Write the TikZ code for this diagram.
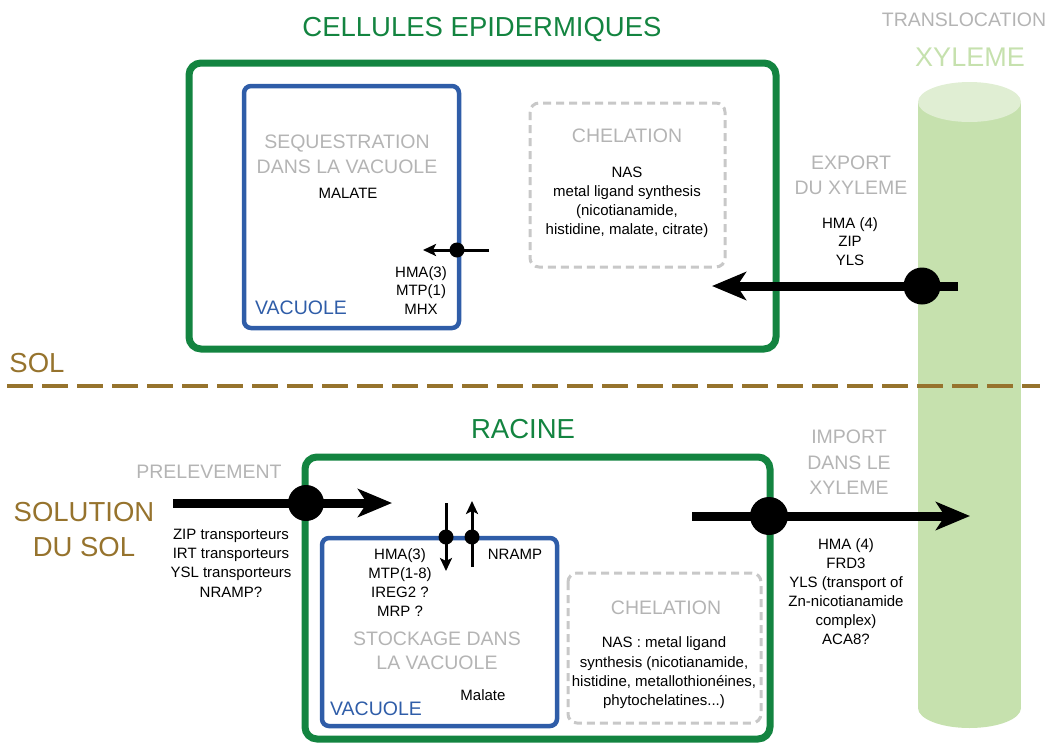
\documentclass[tikz,border=0pt]{standalone}
\usepackage{fontspec}
\setmainfont{Liberation Sans}
\usetikzlibrary{arrows.meta}
\definecolor{cellgreen}{RGB}{19,132,64}
\definecolor{vacblue}{RGB}{47,93,168}
\definecolor{solbrown}{RGB}{150,115,45}
\definecolor{labelgrey}{RGB}{180,180,180}
\definecolor{dashgrey}{RGB}{200,200,200}
\definecolor{xylgreen}{RGB}{198,225,174}
\definecolor{xyltop}{RGB}{224,238,211}

\tikzset{
    bigtitle/.style={font=\fontsize{27.5}{35}\selectfont, align=center, inner sep=0pt},
    greyhead/.style={labelgrey, font=\fontsize{19.5}{25}\selectfont, align=center, inner sep=0pt},
    smalltxt/.style={font=\fontsize{15}{19}\selectfont, align=center, inner sep=0pt},
    transdot/.style={circle, fill=black, inner sep=0pt, minimum size=#1},
    bigarrow/.style={line width=9pt, -{Stealth[length=34pt,width=28pt,inset=9pt]}},
    smallarrow/.style={line width=3pt, -{Stealth[length=13pt,width=12pt,inset=3pt]}},
}

\begin{document}
\begin{tikzpicture}[x=1pt, y=-1pt]
            \useasboundingbox (0,0) rectangle (1050,742);

            % Xyleme
            \fill[xylgreen] (918,102) rectangle (1021,708);
            \fill[xylgreen] (969.5,708) ellipse[x radius=51.5, y radius=20];
            \fill[xyltop] (969.5,102) ellipse[x radius=51.5, y radius=20];
            \node[greyhead] (transloc) at (964,20) {TRANSLOCATION};
            \node[bigtitle, xylgreen, font=\fontsize{27}{35}\selectfont] (xylemetitle) at (970,57) {XYLEME};

            % Cellules epidermiques
            \draw[line width=7pt, cellgreen, rounded corners=12pt] (189,63) rectangle (776,349);
            \node[bigtitle, cellgreen] (epititle) at (482,29) {CELLULES EPIDERMIQUES};
            \draw[line width=4.5pt, vacblue, rounded corners=7pt] (244,86) rectangle (459,328);
            \node[greyhead] (sequest) at (347,154.5) {SEQUESTRATION\\DANS LA VACUOLE};
            \node[smalltxt] (malatetop) at (348,193) {MALATE};
            \node[greyhead, vacblue] (vactop) at (301,308) {VACUOLE};
            \node[smalltxt, font=\fontsize{15}{18.5}\selectfont] (vactransp) at (421,290.5) {HMA(3)\\MTP(1)\\MHX};
            \draw[line width=3pt, dashgrey, dash pattern=on 8pt off 5pt, rounded corners=9pt] (530,103) rectangle (725,267);
            \node[greyhead] (chelattop) at (627,136) {CHELATION};
            \node[smalltxt] (nastop) at (627,202.5) {NAS\\metal ligand synthesis\\(nicotianamide,\\histidine, malate, citrate)};
            \node[greyhead] (export) at (851,175.5) {EXPORT\\DU XYLEME};
            \node[smalltxt, font=\fontsize{15}{18.5}\selectfont] (exporttransp) at (850,241.5) {HMA (4)\\ZIP\\YLS};

            % Vacuole arrow (top)
            \coordinate (vacin) at (489,250);
            \coordinate (vacout) at (423,250);
            \draw[smallarrow] (vacin) -- (vacout);
            \node[transdot=15pt] (vacdot) at (457,250) {};

            % Export arrow
            \coordinate (exportfrom) at (958,286);
            \coordinate (exportto) at (712,286);
            \draw[bigarrow] (exportfrom) -- (exportto);
            \node[transdot=37pt] (exportdot) at (922,286) {};

            % Sol
            \node[bigtitle, solbrown] (soltitle) at (37,363) {SOL};
            \draw[line width=4pt, solbrown, dash pattern=on 26pt off 9pt] (7,386) -- (1040,386);

            % Racine
            \draw[line width=7pt, cellgreen, rounded corners=12pt] (305,457) rectangle (770,739);
            \node[bigtitle, cellgreen] (racinetitle) at (523,429) {RACINE};
            \draw[line width=4.5pt, vacblue, rounded corners=7pt] (322,538) rectangle (557,726);
            \node[smalltxt] (racvactransp) at (400,582.5) {HMA(3)\\MTP(1-8)\\IREG2 ?\\MRP ?};
            \node[smalltxt] (nramp) at (515,554) {NRAMP};
            \node[greyhead, font=\fontsize{19.5}{24}\selectfont] (stockage) at (437,651) {STOCKAGE DANS\\LA VACUOLE};
            \node[smalltxt] (malatebot) at (483,695) {Malate};
            \node[greyhead, vacblue] (vacbot) at (376,709) {VACUOLE};
            \draw[line width=3pt, dashgrey, dash pattern=on 8pt off 5pt, rounded corners=9pt] (568,573) rectangle (761,723);
            \node[greyhead] (chelatbot) at (666,608) {CHELATION};
            \node[smalltxt, font=\fontsize{15}{19.3}\selectfont] (nasbot) at (664,673) {NAS : metal ligand\\synthesis (nicotianamide,\\histidine, metallothionéines,\\phytochelatines...)};

            % Vacuole arrows (bottom)
            \coordinate (downfrom) at (446,503);
            \coordinate (downto) at (446,571);
            \coordinate (upfrom) at (472,567);
            \coordinate (upto) at (472,501);
            \draw[smallarrow] (downfrom) -- (downto);
            \draw[smallarrow] (upfrom) -- (upto);
            \node[transdot=15pt] (downdot) at (446,537) {};
            \node[transdot=15pt] (updot) at (472,537) {};

            % Prelevement
            \node[bigtitle, solbrown] (solution) at (84,529.5) {SOLUTION\\DU SOL};
            \node[greyhead] (prelev) at (209,472) {PRELEVEMENT};
            \node[smalltxt, font=\fontsize{15}{19.3}\selectfont] (uptaketransp) at (231,563) {ZIP transporteurs\\IRT transporteurs\\YSL transporteurs\\NRAMP?};
            \coordinate (uptakefrom) at (173,503);
            \coordinate (uptaketo) at (392,503);
            \draw[bigarrow] (uptakefrom) -- (uptaketo);
            \node[transdot=36pt] (uptakedot) at (306,503) {};

            % Import dans le xyleme
            \node[greyhead, font=\fontsize{19.5}{25.5}\selectfont] (import) at (849,462.5) {IMPORT\\DANS LE\\XYLEME};
            \node[smalltxt] (importtransp) at (846,591.5) {HMA (4)\\FRD3\\YLS (transport of\\Zn-nicotianamide\\complex)\\ACA8?};
            \coordinate (importfrom) at (692,516);
            \coordinate (importto) at (970,516);
            \draw[bigarrow] (importfrom) -- (importto);
            \node[transdot=38pt] (importdot) at (769,516) {};
        \end{tikzpicture}
\end{document}
